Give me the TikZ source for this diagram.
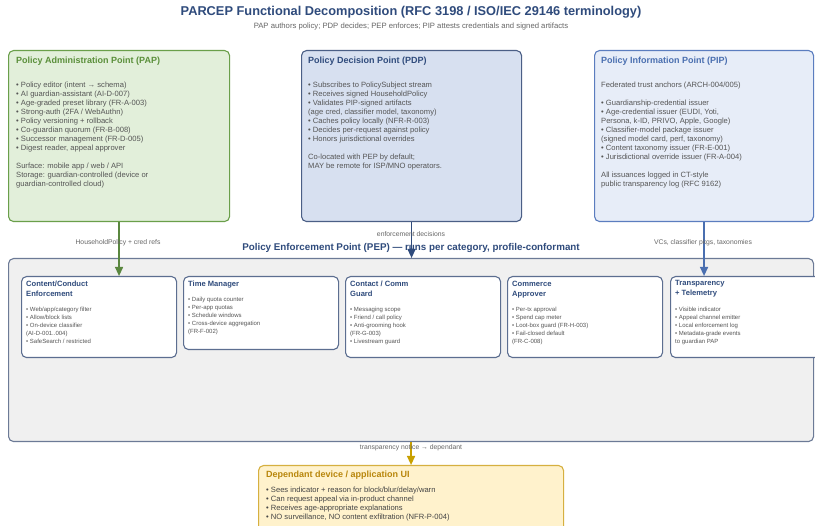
\documentclass[tikz,border=0pt]{standalone}
\usepackage{fontspec}
\setmainfont{Liberation Sans}
\usetikzlibrary{arrows.meta}

\definecolor{headblue}{HTML}{2F4B7C}
\definecolor{bodygray}{HTML}{555555}
\definecolor{subgray}{HTML}{666666}
\definecolor{papfill}{HTML}{E2EFDA}
\definecolor{papline}{HTML}{6A9F4A}
\definecolor{paptext}{HTML}{5A8F3A}
\definecolor{pdpfill}{HTML}{D7E0F0}
\definecolor{pdpline}{HTML}{4B5F86}
\definecolor{pipfill}{HTML}{E7EDF8}
\definecolor{pipline}{HTML}{5B7DBF}
\definecolor{piptext}{HTML}{4A6FB0}
\definecolor{pepfill}{HTML}{F0F0F0}
\definecolor{pepline}{HTML}{6C7A96}
\definecolor{subline}{HTML}{5C6E90}
\definecolor{depfill}{HTML}{FFF2CC}
\definecolor{depline}{HTML}{D6B040}
\definecolor{deptext}{HTML}{B8860B}
\definecolor{deparrow}{HTML}{C8A000}

\tikzset{
  panel/.style={draw, line width=1.1pt, rounded corners=5pt, inner sep=0pt,
    anchor=north west},
  subbox/.style={panel, draw=subline, fill=white, minimum width=155pt},
  paneltitle/.style={anchor=north west, inner sep=0pt, align=left,
    font=\fontsize{9}{11}\selectfont\bfseries},
  paneltext/.style={anchor=north west, inner sep=0pt, align=left,
    text=bodygray, font=\fontsize{7.6}{9}\selectfont},
  subtitle/.style={anchor=north west, inner sep=0pt, align=left,
    text=headblue, font=\fontsize{7.6}{10}\selectfont\bfseries},
  subtext/.style={anchor=north west, inner sep=0pt, align=left,
    text=bodygray, font=\fontsize{6}{8}\selectfont},
  flowlabel/.style={inner sep=0pt, text=subgray, font=\fontsize{6.8}{8}\selectfont},
  flow/.style={line width=1.3pt, -{Triangle[width=8pt,length=9pt]}}
}

\begin{document}
\begin{tikzpicture}[x=1pt,y=-1pt]
\useasboundingbox (0,0) rectangle (815,526);
\fill[white] (0,0) rectangle (815,526);

% heading
\node[inner sep=0pt, text=headblue, font=\fontsize{12.8}{14}\selectfont\bfseries]
  (title) at (411,12) {PARCEP Functional Decomposition (RFC 3198 / ISO/IEC 29146 terminology)};
\node[inner sep=0pt, text=subgray, font=\fontsize{7.7}{9}\selectfont]
  (subtitle) at (411,27) {PAP authors policy; PDP decides; PEP enforces; PIP attests credentials and signed artifacts};

% upper row of points
\node[panel, draw=papline, fill=papfill, minimum width=221pt, minimum height=171pt] (pap) at (8,50) {};
\node[paneltitle, text=paptext] (papT) at (16,57) {Policy Administration Point (PAP)};
\node[paneltext] (papB) at (16,81.5) {%
• Policy editor (intent → schema)\\
• AI guardian-assistant (AI-D-007)\\
• Age-graded preset library (FR-A-003)\\
• Strong-auth (2FA / WebAuthn)\\
• Policy versioning + rollback\\
• Co-guardian quorum (FR-B-008)\\
• Successor management (FR-D-005)\\
• Digest reader, appeal approver\\[9pt]
Surface: mobile app / web / API\\
Storage: guardian-controlled (device or\\
guardian-controlled cloud)};

\node[panel, draw=pdpline, fill=pdpfill, minimum width=220pt, minimum height=171pt] (pdp) at (301,50) {};
\node[paneltitle, text=headblue] (pdpT) at (308,57) {Policy Decision Point (PDP)};
\node[paneltext] (pdpB) at (308,81.5) {%
• Subscribes to PolicySubject stream\\
• Receives signed HouseholdPolicy\\
• Validates PIP-signed artifacts\\
(age cred, classifier model, taxonomy)\\
• Caches policy locally (NFR-R-003)\\
• Decides per-request against policy\\
• Honors jurisdictional overrides\\[9pt]
Co-located with PEP by default;\\
MAY be remote for ISP/MNO operators.};

\node[panel, draw=pipline, fill=pipfill, minimum width=219pt, minimum height=171pt] (pip) at (594,50) {};
\node[paneltitle, text=piptext] (pipT) at (601,57) {Policy Information Point (PIP)};
\node[paneltext] (pipB) at (601,81.5) {%
Federated trust anchors (ARCH-004/005)\\[9pt]
• Guardianship-credential issuer\\
• Age-credential issuer (EUDI, Yoti,\\
Persona, k-ID, PRIVO, Apple, Google)\\
• Classifier-model package issuer\\
(signed model card, perf, taxonomy)\\
• Content taxonomy issuer (FR-E-001)\\
• Jurisdictional override issuer (FR-A-004)\\[9pt]
All issuances logged in CT-style\\
public transparency log (RFC 9162)};

% enforcement point and its guards
\node[panel, draw=pepline, fill=pepfill, minimum width=805pt, minimum height=183pt] (pep) at (8,258) {};
\node[inner sep=0pt, text=headblue, font=\fontsize{9.8}{11}\selectfont\bfseries]
  (pepT) at (411,248) {Policy Enforcement Point (PEP) — runs per category, profile-conformant};

\node[subbox, minimum height=81pt] (content) at (21,276) {};
\node[subtitle] (contentT) at (26,280.5) {Content/Conduct\\Enforcement};
\node[subtext] (contentB) at (26,307) {%
• Web/app/category filter\\
• Allow/block lists\\
• On-device classifier\\
(AI-D-001..004)\\
• SafeSearch / restricted};

\node[subbox, minimum height=73pt] (time) at (183,276) {};
\node[subtitle] (timeT) at (188,280.5) {Time Manager};
\node[subtext] (timeB) at (188,297) {%
• Daily quota counter\\
• Per-app quotas\\
• Schedule windows\\
• Cross-device aggregation\\
(FR-F-002)};

\node[subbox, minimum height=81pt] (contact) at (345,276) {};
\node[subtitle] (contactT) at (350,280.5) {Contact / Comm\\Guard};
\node[subtext] (contactB) at (350,307) {%
• Messaging scope\\
• Friend / call policy\\
• Anti-grooming hook\\
(FR-G-003)\\
• Livestream guard};

\node[subbox, minimum height=81pt] (commerce) at (507,276) {};
\node[subtitle] (commerceT) at (512,280.5) {Commerce\\Approver};
\node[subtext] (commerceB) at (512,307) {%
• Per-tx approval\\
• Spend cap meter\\
• Loot-box guard (FR-H-003)\\
• Fail-closed default\\
(FR-C-008)};

\node[subbox, minimum height=81pt] (transp) at (670,276) {};
\node[subtitle] (transpT) at (675,280.5) {Transparency\\+ Telemetry};
\node[subtext] (transpB) at (675,307) {%
• Visible indicator\\
• Appeal channel emitter\\
• Local enforcement log\\
• Metadata-grade events\\
to guardian PAP};

% dependant side
\node[panel, draw=depline, fill=depfill, minimum width=305pt, minimum height=75pt] (dep) at (258,465) {};
\node[paneltitle, text=deptext] (depT) at (266,471) {Dependant device / application UI};
\node[paneltext, text=bodygray!80!black] (depB) at (266,487) {%
• Sees indicator + reason for block/blur/delay/warn\\
• Can request appeal via in-product channel\\
• Receives age-appropriate explanations\\
• NO surveillance, NO content exfiltration (NFR-P-004)};

% flows
\draw[flow, draw=papline!85!black, fill=papline!85!black] (pap.south) -- (pap.south |- content.north);
\draw[flow, draw=headblue, fill=headblue] (pdp.south) -- (pdp.south |- pep.north);
\draw[flow, draw=piptext, fill=piptext] (pip.south) -- (pip.south |- transp.north);
\draw[flow, draw=deparrow, fill=deparrow] (pep.south -| dep.north) -- (dep.north);

\node[flowlabel] (lblPap) at (118,243) {HouseholdPolicy + cred refs};
\node[flowlabel] (lblPdp) at (411,234) {enforcement decisions};
\node[flowlabel] (lblPip) at (703,243) {VCs, classifier pkgs, taxonomies};
\node[flowlabel] (lblDep) at (411,448) {transparency notice → dependant};
\end{tikzpicture}
\end{document}
